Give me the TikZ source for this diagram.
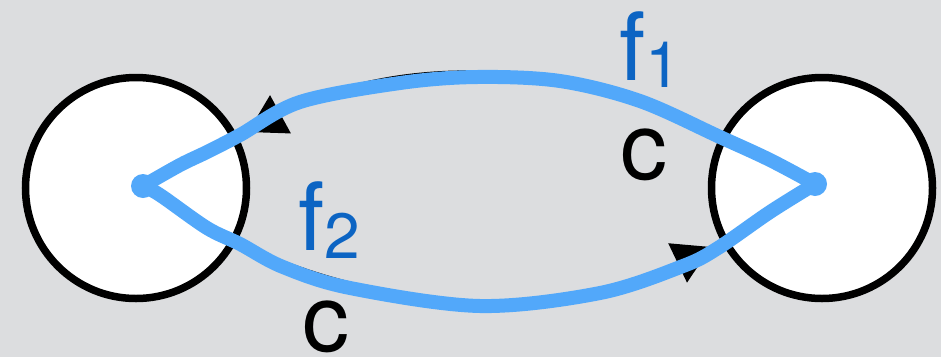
\documentclass[tikz,border=0pt]{standalone}
\usepackage{fontspec}
\setmainfont{TeX Gyre Heros}
\usetikzlibrary{arrows.meta}
\definecolor{bg}{RGB}{220,221,223}
\definecolor{pathblue}{RGB}{82,168,250}
\definecolor{labblue}{RGB}{12,100,195}
\newcommand\subsz{\fontsize{64}{64}\selectfont}
\begin{document}
\begin{tikzpicture}[x=1pt,y=-1pt,
  state/.style={circle, draw=black, line width=7.5pt, fill=white, minimum size=221pt, inner sep=0pt},
  arc/.style={draw=black, line width=2.6pt, -{Triangle[length=37pt,width=43pt]}},
  walk/.style={draw=pathblue, line width=14pt, line cap=round, line join=round},
  lbl/.style={font=\fontsize{94}{94}\selectfont, inner sep=0pt, anchor=base west}]
\fill[bg] (0,0) rectangle (941,357);
\useasboundingbox (0,0) rectangle (941,357);
% states
\node[state] (L) at (136,188) {};
\node[state] (R) at (822,188) {};
% arrow tip points
\coordinate (tA) at (248,132);
\coordinate (tB) at (711,247);
% black connectors
\draw[arc] (R.154) .. controls (569,54) and (391,54) .. (tA);
\draw[arc] (L.-28) .. controls (384,313) and (558,320) .. (tB);
% blue walk
\coordinate (lv) at (143,186);
\coordinate (rv) at (815,184);
\draw[walk] plot[smooth, tension=0.55] coordinates {(lv) (180,165) (207,152) (240,135) (300,102) (400,83) (477,77) (560,81) (640,101) (720,137) (770,160) (rv)};
\draw[walk] plot[smooth, tension=0.55] coordinates {(rv) (770,212) (718,248) (683,266) (600,293) (480,306) (350,288) (283,267) (240,244) (207,228) (160,195) (lv)};
\fill[pathblue] (lv) circle (12);
\fill[pathblue] (rv) circle (12);
% labels
\node[lbl, text=labblue] (f1) at (619,80) {f\raisebox{-7pt}{\subsz 1}};
\node[lbl] (c1) at (620,179) {c};
\node[lbl, text=labblue] (f2) at (298,250) {f\raisebox{-8pt}{\subsz 2}};
\node[lbl] (c2) at (302,351) {c};
\end{tikzpicture}
\end{document}
